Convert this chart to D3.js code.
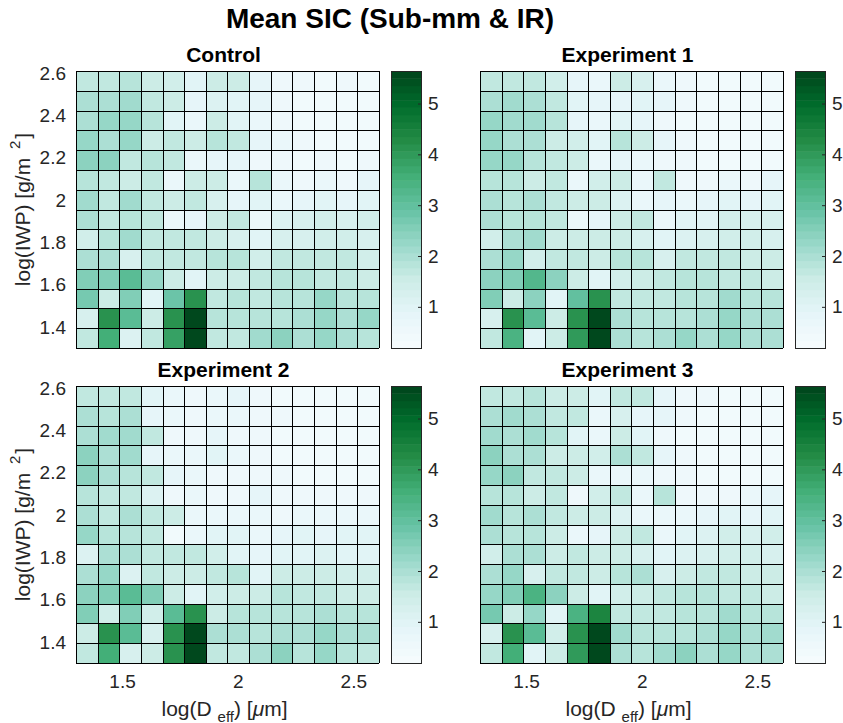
<!DOCTYPE html>
<html>
<head>
<meta charset="utf-8">
<title>Mean SIC (Sub-mm &amp; IR)</title>
<style>
  body { margin: 0; background: #fff; }
  svg { font-family: "Liberation Sans", Arial, Helvetica, sans-serif; }
</style>
</head>
<body>
<script src="https://cdn.jsdelivr.net/npm/d3@7"></script>
<script>
// bin edges (same for log(D_eff) and log(IWP))
const binEdges = [1.301, 1.395, 1.488, 1.582, 1.675, 1.769, 1.863, 1.956, 2.050, 2.143, 2.237, 2.331, 2.424, 2.518, 2.611];
const xTicks = [1.5, 2, 2.5];
const yTicks = [1.4, 1.6, 1.8, 2, 2.2, 2.4, 2.6];
const cbTicks = [1, 2, 3, 4, 5];
const cRange = [0.19, 5.64];
const bugn = ["#f7fcfd", "#e5f5f9", "#ccece6", "#99d8c9", "#66c2a4", "#41ae76", "#238b45", "#006d2c", "#00441b"];
const nLevels = 38;

// rows listed from top (log IWP ~2.6) to bottom (~1.3), columns left to right
const control = [
  [1.7, 1.7, 1.8, 1.5, 1.4, 1.0, 1.5, 1.6, 0.9, 0.6, 0.55, 0.45, 0.5, 0.45],
  [2.0, 2.05, 2.1, 1.7, 1.5, 0.9, 1.1, 1.0, 0.85, 0.55, 0.45, 0.4, 0.4, 0.35],
  [2.0, 2.2, 2.2, 1.8, 1.0, 0.7, 1.6, 1.0, 0.75, 0.5, 0.45, 0.4, 0.35, 0.35],
  [2.3, 2.0, 2.2, 1.55, 1.65, 1.5, 1.9, 1.75, 0.85, 0.7, 0.5, 0.4, 0.4, 0.35],
  [2.35, 2.45, 1.75, 1.8, 1.7, 0.7, 0.85, 0.8, 0.6, 0.55, 0.45, 0.5, 0.45, 0.5],
  [1.8, 1.7, 1.5, 1.65, 0.7, 1.6, 1.5, 0.7, 1.9, 0.65, 0.55, 0.7, 0.55, 0.85],
  [2.1, 1.75, 2.1, 1.75, 1.5, 1.7, 1.25, 0.8, 1.0, 0.7, 0.85, 1.0, 0.85, 1.0],
  [2.0, 1.75, 1.8, 1.65, 0.75, 0.8, 1.5, 1.7, 0.7, 1.1, 1.2, 1.4, 1.2, 1.35],
  [1.4, 1.9, 2.1, 1.65, 1.65, 1.65, 1.5, 1.25, 1.0, 1.2, 1.2, 1.45, 1.35, 1.2],
  [2.0, 2.0, 1.3, 1.7, 1.65, 1.65, 1.8, 1.85, 1.35, 1.7, 1.65, 1.75, 1.65, 1.4],
  [2.5, 2.5, 3.15, 2.3, 1.5, 1.0, 1.6, 1.6, 1.75, 1.85, 1.85, 1.65, 1.7, 1.5],
  [2.65, 1.5, 2.5, 1.0, 2.9, 4.2, 1.65, 1.85, 1.75, 1.9, 1.85, 2.2, 1.85, 1.9],
  [1.2, 4.2, 3.15, 1.5, 4.15, 5.5, 1.85, 1.85, 1.9, 1.9, 2.0, 2.2, 2.0, 2.2],
  [1.7, 3.5, 1.1, 1.75, 3.9, 5.64, 1.75, 1.75, 2.1, 2.35, 2.0, 2.3, 2.0, 1.85]
];
const exp1 = [
  [1.7, 1.7, 1.75, 1.45, 0.9, 0.75, 1.5, 1.2, 0.75, 0.55, 0.45, 0.4, 0.45, 0.4],
  [2.0, 2.1, 2.05, 1.7, 1.05, 0.8, 0.9, 1.0, 0.8, 0.55, 0.45, 0.4, 0.4, 0.35],
  [2.25, 2.1, 2.1, 1.8, 0.9, 0.65, 1.0, 0.9, 0.6, 0.45, 0.4, 0.4, 0.35, 0.35],
  [2.2, 2.0, 2.0, 1.5, 1.4, 1.0, 1.85, 1.5, 0.8, 0.6, 0.45, 0.4, 0.4, 0.35],
  [2.25, 2.3, 1.8, 1.75, 1.6, 0.7, 0.8, 0.7, 0.55, 0.5, 0.45, 0.45, 0.45, 0.45],
  [1.8, 1.8, 1.6, 1.65, 0.7, 1.4, 1.55, 0.7, 1.75, 0.6, 0.5, 0.65, 0.55, 0.8],
  [2.0, 1.8, 2.0, 1.75, 1.55, 1.5, 1.15, 0.75, 0.8, 0.7, 0.85, 0.95, 0.85, 0.95],
  [2.0, 1.8, 1.85, 1.65, 0.7, 0.85, 1.55, 1.65, 0.7, 1.05, 1.05, 1.35, 1.2, 1.3],
  [1.35, 1.95, 2.1, 1.6, 1.6, 1.55, 1.5, 1.2, 1.0, 1.15, 1.25, 1.45, 1.35, 1.25],
  [2.0, 2.25, 1.35, 1.7, 1.65, 1.55, 1.8, 1.8, 1.25, 1.65, 1.65, 1.7, 1.6, 1.5],
  [2.4, 2.55, 3.3, 2.35, 1.55, 1.05, 1.4, 1.6, 1.7, 1.85, 1.85, 1.7, 1.75, 1.6],
  [2.55, 1.55, 2.35, 1.0, 3.0, 4.2, 1.65, 1.75, 1.75, 1.85, 1.85, 2.15, 1.8, 1.85],
  [1.2, 4.1, 3.15, 1.5, 4.15, 5.5, 2.0, 1.85, 1.85, 1.85, 2.0, 2.25, 1.95, 2.05],
  [1.75, 3.35, 1.05, 1.55, 3.95, 5.6, 1.95, 1.8, 2.05, 2.3, 2.0, 2.25, 1.95, 1.95]
];
const exp2 = [
  [1.7, 1.65, 1.65, 0.95, 0.75, 0.6, 0.75, 0.85, 0.6, 0.45, 0.4, 0.4, 0.4, 0.4],
  [2.0, 1.8, 2.0, 0.85, 0.75, 0.6, 0.7, 0.7, 0.6, 0.5, 0.45, 0.4, 0.4, 0.35],
  [2.05, 2.1, 2.1, 1.7, 0.6, 0.6, 0.8, 0.6, 0.5, 0.45, 0.4, 0.4, 0.35, 0.35],
  [2.35, 2.0, 2.1, 0.8, 0.7, 0.65, 1.05, 0.65, 0.5, 0.45, 0.4, 0.4, 0.35, 0.35],
  [2.35, 2.0, 1.85, 1.75, 0.8, 0.65, 0.6, 0.6, 0.5, 0.5, 0.45, 0.45, 0.45, 0.45],
  [1.8, 1.7, 1.65, 1.1, 0.55, 0.7, 0.55, 0.6, 0.9, 0.55, 0.5, 0.5, 0.5, 0.6],
  [2.0, 1.75, 2.0, 1.75, 1.5, 0.7, 0.7, 0.7, 0.65, 0.6, 0.7, 0.75, 0.75, 0.75],
  [2.25, 1.85, 1.85, 1.7, 0.45, 0.75, 1.05, 1.05, 0.75, 0.9, 1.0, 0.9, 0.95, 1.0],
  [1.15, 2.05, 2.05, 1.65, 1.65, 1.7, 1.45, 1.0, 0.9, 1.0, 0.95, 1.15, 1.05, 0.95],
  [2.0, 2.3, 1.1, 1.7, 1.6, 1.6, 1.7, 1.8, 1.05, 1.5, 1.5, 1.6, 1.45, 1.35],
  [2.4, 2.6, 3.2, 2.55, 1.55, 1.0, 1.45, 1.5, 1.55, 1.8, 1.65, 1.75, 1.6, 1.55],
  [2.6, 1.45, 2.5, 1.35, 3.2, 4.2, 1.6, 1.85, 1.8, 1.85, 1.85, 2.05, 1.85, 1.85],
  [1.5, 4.15, 3.2, 1.2, 4.2, 5.55, 1.95, 1.95, 1.9, 2.0, 2.0, 2.25, 2.05, 2.0],
  [1.65, 3.55, 1.25, 1.6, 4.1, 5.6, 1.75, 1.75, 2.05, 2.35, 1.9, 2.3, 1.9, 1.7]
];
const exp3 = [
  [1.75, 1.75, 1.8, 1.55, 1.55, 0.95, 1.65, 1.7, 0.8, 0.5, 0.6, 0.45, 0.45, 0.4],
  [2.0, 2.15, 2.05, 1.7, 1.75, 0.75, 1.2, 0.9, 0.85, 0.55, 0.45, 0.4, 0.4, 0.35],
  [2.1, 2.05, 2.1, 1.85, 1.0, 0.65, 1.6, 0.95, 0.6, 0.45, 0.4, 0.4, 0.35, 0.35],
  [2.35, 2.05, 2.0, 1.55, 1.55, 1.45, 1.95, 1.65, 0.85, 0.55, 0.45, 0.4, 0.4, 0.35],
  [2.3, 2.4, 1.75, 1.75, 1.6, 0.65, 0.7, 0.65, 0.6, 0.5, 0.45, 0.45, 0.45, 0.45],
  [1.85, 1.85, 1.55, 1.7, 0.6, 1.45, 1.65, 0.65, 1.8, 0.6, 0.55, 0.6, 0.7, 0.8],
  [2.1, 1.85, 2.05, 1.75, 1.55, 1.6, 1.15, 0.75, 0.75, 0.7, 0.85, 0.95, 0.85, 0.95],
  [2.05, 1.8, 1.85, 1.6, 0.7, 0.8, 1.5, 1.75, 0.7, 1.05, 1.15, 1.4, 1.25, 1.35],
  [1.35, 1.95, 2.05, 1.6, 1.65, 1.6, 1.5, 1.25, 1.0, 1.15, 1.25, 1.45, 1.4, 1.25],
  [2.0, 2.2, 1.3, 1.75, 1.65, 1.6, 1.8, 2.05, 1.3, 1.6, 1.7, 1.7, 1.6, 1.5],
  [2.3, 2.5, 3.35, 2.45, 1.55, 1.05, 1.45, 1.6, 1.65, 1.8, 1.85, 1.7, 1.75, 1.6],
  [2.7, 1.55, 2.3, 1.05, 3.35, 4.35, 1.65, 1.75, 1.75, 1.85, 1.85, 2.15, 1.8, 1.85],
  [1.3, 4.15, 3.1, 1.45, 4.15, 5.5, 2.1, 1.85, 1.85, 1.85, 2.0, 2.3, 2.0, 2.1],
  [1.7, 3.5, 1.0, 1.55, 4.0, 5.6, 2.0, 1.8, 2.1, 2.35, 2.0, 2.3, 2.0, 2.0]
];

const panels = [
  { title: "Control", data: control, ox: 76, oy: 71, left: true, bottom: false },
  { title: "Experiment 1", data: exp1, ox: 480, oy: 71, left: false, bottom: false },
  { title: "Experiment 2", data: exp2, ox: 76, oy: 386, left: true, bottom: true },
  { title: "Experiment 3", data: exp3, ox: 480, oy: 386, left: false, bottom: true }
];

const W = 843, H = 723;
const pw = 303, ph = 277;
const cbGap = 315, cbW = 30;
const axisCol = "#262626";
const fontFam = '"Liberation Sans", Arial, sans-serif';

const svg = d3.select("body").append("svg")
  .attr("width", W).attr("height", H);

svg.append("text")
  .attr("x", 390).attr("y", 28)
  .attr("text-anchor", "middle")
  .attr("font-size", 28).attr("font-weight", "bold")
  .attr("fill", "#000")
  .text("Mean SIC (Sub-mm & IR)");

const x = d3.scaleLinear().domain([binEdges[0], binEdges[binEdges.length - 1]]).range([0, pw]);
const y = d3.scaleLinear().domain([binEdges[0], binEdges[binEdges.length - 1]]).range([ph, 0]);
const cmap = d3.piecewise(d3.interpolateRgb, bugn);
const level = v => Math.max(0, Math.min(nLevels - 1, Math.floor((v - cRange[0]) / (cRange[1] - cRange[0]) * nLevels)));
const color = v => cmap((level(v) + 0.5) / nLevels);
const cb = d3.scaleLinear().domain(cRange).range([ph, 0]);
const px = v => Math.round(v) + 0.5;

panels.forEach(p => {
  const g = svg.append("g").attr("transform", `translate(${p.ox},${p.oy})`);
  const nr = p.data.length;
  const cells = [];
  p.data.forEach((row, r) => row.forEach((v, c) => cells.push({ r: nr - 1 - r, c: c, v: v })));

  g.selectAll("rect.cell").data(cells).join("rect")
    .attr("class", "cell")
    .attr("x", d => Math.round(x(binEdges[d.c])))
    .attr("y", d => Math.round(y(binEdges[d.r + 1])))
    .attr("width", d => Math.round(x(binEdges[d.c + 1])) - Math.round(x(binEdges[d.c])))
    .attr("height", d => Math.round(y(binEdges[d.r])) - Math.round(y(binEdges[d.r + 1])))
    .attr("fill", d => color(d.v))
    .attr("shape-rendering", "crispEdges");

  // cell edges
  g.selectAll("line.v").data(binEdges).join("line")
    .attr("class", "v")
    .attr("x1", d => px(x(d))).attr("x2", d => px(x(d)))
    .attr("y1", 0).attr("y2", ph)
    .attr("stroke", "#000").attr("stroke-width", 1);
  g.selectAll("line.h").data(binEdges).join("line")
    .attr("class", "h")
    .attr("y1", d => px(y(d))).attr("y2", d => px(y(d)))
    .attr("x1", 0).attr("x2", pw)
    .attr("stroke", "#000").attr("stroke-width", 1);

  g.append("text")
    .attr("x", pw / 2 - 4).attr("y", -9)
    .attr("text-anchor", "middle")
    .attr("font-size", 21).attr("font-weight", "bold")
    .attr("fill", "#000")
    .text(p.title);

  if (p.left) {
    const ya = g.append("g")
      .call(d3.axisLeft(y).tickValues(yTicks).tickSize(0).tickPadding(10).tickFormat(d3.format("")));
    ya.select(".domain").remove();
    ya.selectAll("text").attr("font-size", 19).attr("fill", axisCol).attr("font-family", fontFam);

    const yl = svg.append("text")
      .attr("transform", `translate(30,${p.oy + ph / 2}) rotate(-90)`)
      .attr("text-anchor", "middle")
      .attr("font-size", 21).attr("fill", axisCol);
    yl.append("tspan").text("log(IWP) [g/m ");
    yl.append("tspan").attr("font-size", 15).attr("dx", 3).attr("dy", -10).text("2");
    yl.append("tspan").attr("dx", 2).attr("dy", 10).text("]");
  }

  if (p.bottom) {
    const xa = g.append("g").attr("transform", `translate(0,${ph})`)
      .call(d3.axisBottom(x).tickValues(xTicks).tickSize(0).tickPadding(12).tickFormat(d3.format("")));
    xa.select(".domain").remove();
    xa.selectAll("text").attr("font-size", 19).attr("fill", axisCol).attr("font-family", fontFam);

    const xl = g.append("text")
      .attr("x", pw / 2 - 3).attr("y", ph + 53)
      .attr("text-anchor", "middle")
      .attr("font-size", 21).attr("fill", axisCol);
    xl.append("tspan").text("log(D ");
    xl.append("tspan").attr("font-size", 15).attr("dy", 6).text("eff");
    xl.append("tspan").attr("dy", -6).text(") [");
    xl.append("tspan").attr("font-style", "italic").text("\u03bc");
    xl.append("tspan").text("m]");
  }

  // colorbar
  const cg = g.append("g").attr("transform", `translate(${cbGap},0)`);
  const levels = d3.range(nLevels);
  const step = (cRange[1] - cRange[0]) / nLevels;
  cg.selectAll("rect.lv").data(levels).join("rect")
    .attr("class", "lv")
    .attr("x", 0).attr("width", cbW)
    .attr("y", i => cb(cRange[0] + (i + 1) * step))
    .attr("height", i => cb(cRange[0] + i * step) - cb(cRange[0] + (i + 1) * step) + 0.5)
    .attr("fill", i => cmap((i + 0.5) / nLevels));
  cg.append("rect")
    .attr("x", 0.5).attr("y", 0.5).attr("width", cbW).attr("height", ph)
    .attr("fill", "none").attr("stroke", axisCol).attr("stroke-width", 1);
  const ca = cg.append("g").attr("transform", `translate(${cbW},0)`)
    .call(d3.axisRight(cb).tickValues(cbTicks).tickSizeInner(-3).tickSizeOuter(0).tickPadding(7).tickFormat(d3.format("")));
  ca.select(".domain").remove();
  ca.selectAll("line").attr("stroke", axisCol);
  ca.selectAll("text").attr("font-size", 19).attr("fill", axisCol).attr("font-family", fontFam);
});
</script>
</body>
</html>
